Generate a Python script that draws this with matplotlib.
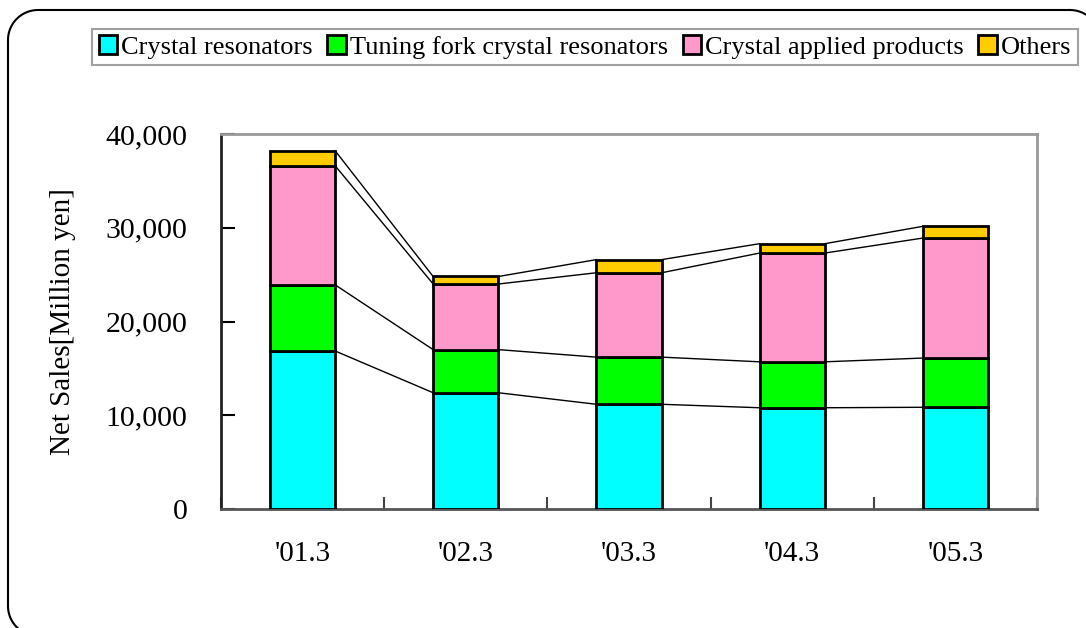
import numpy as np
import matplotlib.pyplot as plt
from matplotlib.lines import Line2D
from matplotlib.patches import Patch
from matplotlib.ticker import FuncFormatter

plt.rcParams["font.family"] = ["Liberation Serif", "DejaVu Serif"]

# Net sales by product segment (million yen)
years = ["'01.3", "'02.3", "'03.3", "'04.3", "'05.3"]
crystal_resonators = [16850, 12400, 11170, 10800, 10850]
tuning_fork = [7050, 4600, 5030, 4900, 5250]
applied_products = [12700, 7000, 9000, 11600, 12800]
others = [1600, 800, 1400, 1000, 1250]

series_names = [
    "Crystal resonators",
    "Tuning fork crystal resonators",
    "Crystal applied products",
    "Others",
]
series_colors = ["#00FFFF", "#00FF00", "#FF99CC", "#FFCC00"]

W, H = 1086, 628
fig = plt.figure(figsize=(W / 100, H / 100), dpi=100)


def rounded_frame(x0, y0, x1, y1, r, n=20):
    # outline of a rounded rectangle in pixel coords (y downwards)
    pts = []
    corners = [(x1 - r, y0 + r, -90, 0), (x1 - r, y1 - r, 0, 90),
               (x0 + r, y1 - r, 90, 180), (x0 + r, y0 + r, 180, 270)]
    for cx, cy, a0, a1 in corners:
        t = np.radians(np.linspace(a0, a1, n))
        pts += list(zip(cx + r * np.cos(t), cy + r * np.sin(t)))
    pts.append(pts[0])
    px = np.array([p[0] for p in pts])
    py = np.array([p[1] for p in pts])
    return px / W, 1 - py / H


fx, fy = rounded_frame(8, 10, 1100, 636, 30)
fig.add_artist(Line2D(fx, fy, transform=fig.transFigure, color="black", linewidth=1.5))

ax = fig.add_axes([221 / W, 1 - 509 / H, (1037 - 221) / W, (509 - 134) / H])
ax.set_facecolor("none")

x = np.arange(len(years))
width = 0.40
all_series = [crystal_resonators, tuning_fork, applied_products, others]

bottom = np.zeros(len(years))
levels = []
for vals, name, col in zip(all_series, series_names, series_colors):
    vals = np.array(vals, dtype=float)
    ax.bar(x, vals, width, bottom=bottom, color=col, edgecolor="black",
           linewidth=2, label=name, zorder=3)
    bottom = bottom + vals
    levels.append(bottom.copy())

# connecting lines between the stacked levels
for lev in levels:
    for i in range(len(years) - 1):
        ax.plot([x[i] + width / 2, x[i + 1] - width / 2], [lev[i], lev[i + 1]],
                color="black", linewidth=1, zorder=2)

ax.set_xlim(-0.5, len(years) - 0.5)
ax.set_ylim(0, 40000)
ax.set_yticks([0, 10000, 20000, 30000, 40000])
ax.yaxis.set_major_formatter(FuncFormatter(lambda v, p: f"{int(v):,}"))
ax.set_xticks(x)
ax.set_xticklabels(years)
ax.set_xticks(np.arange(-0.5, len(years)), minor=True)
ax.tick_params(axis="x", which="major", length=0, labelsize=21, pad=23)
ax.tick_params(axis="x", which="minor", direction="in", length=9, width=1.5, color="#444444")
ax.tick_params(axis="y", direction="in", length=10, width=1.5, labelsize=21.5, pad=24)
ax.set_ylabel("Net Sales[Million yen]", fontsize=21, labelpad=21)

ax.spines["left"].set_color("#222222")
ax.spines["bottom"].set_color("#555555")
ax.spines["top"].set_color("#999999")
ax.spines["right"].set_color("#999999")
for s in ax.spines.values():
    s.set_linewidth(2)

handles = [Patch(facecolor=c, edgecolor="black", linewidth=2) for c in series_colors]
leg = fig.legend(
    handles, series_names, ncol=4, loc="center",
    bbox_to_anchor=(585 / W, 1 - 47 / H),
    fontsize=19, frameon=True, fancybox=False, edgecolor="#888888",
    handlelength=0.7, handleheight=0.7, handletextpad=0.15,
    columnspacing=0.55, borderpad=0.25, borderaxespad=0,
)
leg.get_frame().set_linewidth(1.5)

fig.savefig("out.png", dpi=100)
